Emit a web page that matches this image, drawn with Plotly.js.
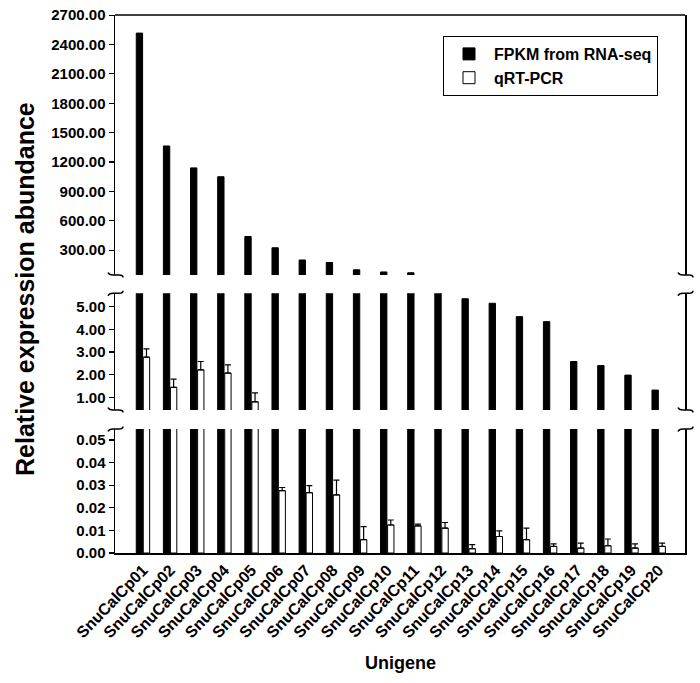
<!DOCTYPE html>
<html>
<head>
<meta charset="utf-8">
<script src="https://cdn.plot.ly/plotly-3.0.1.min.js"></script>
<style>html,body{margin:0;padding:0;background:#fff;}#chart{width:700px;height:683px;}</style>
</head>
<body>
<div id="chart"></div>
<script>
// ---- data ----
const categories = ['SnuCalCp01','SnuCalCp02','SnuCalCp03','SnuCalCp04','SnuCalCp05',
  'SnuCalCp06','SnuCalCp07','SnuCalCp08','SnuCalCp09','SnuCalCp10',
  'SnuCalCp11','SnuCalCp12','SnuCalCp13','SnuCalCp14','SnuCalCp15',
  'SnuCalCp16','SnuCalCp17','SnuCalCp18','SnuCalCp19','SnuCalCp20'];
const fpkm = [2516, 1364, 1140, 1050, 440, 325, 200, 175, 100, 78,
  70, 30, 5.35, 5.15, 4.56, 4.34, 2.58, 2.40, 1.98, 1.32];
const qpcr = [2.77, 1.44, 2.21, 2.07, 0.80, 0.0276, 0.0267, 0.0257, 0.0059, 0.0124,
  0.0120, 0.0110, 0.0019, 0.0073, 0.0059, 0.0029, 0.0022, 0.0032, 0.0022, 0.0029];
const qpcrErr = [0.37, 0.36, 0.37, 0.36, 0.40, 0.0014, 0.0031, 0.0066, 0.0058, 0.0022,
  0.0008, 0.0025, 0.0018, 0.0025, 0.0051, 0.0011, 0.0022, 0.0030, 0.0018, 0.0015];
const seriesNames = ['FPKM from RNA-seq', 'qRT-PCR'];
const yTitle = 'Relative expression abundance';
const xTitle = 'Unigene';

// ---- layout helpers ----
const FONT = 'Liberation Sans, Arial, sans-serif';
const L = 115, R = 685, T = 15, B = 553;
const px = x => (x - L) / (R - L);
const py = y => (B - y) / (B - T);

const panels = [
  {axis: 'y',  key: 'yaxis',  domain: [0, py(429)],      range: [0, 0.0549],  dtick: 0.01},
  {axis: 'y2', key: 'yaxis2', domain: [py(410), py(293.3)], range: [0.44, 5.59], dtick: 1},
  {axis: 'y3', key: 'yaxis3', domain: [py(275), 1],       range: [47, 2701],    dtick: 300}
];

const traces = [];
panels.forEach((p, i) => {
  traces.push({
    type: 'bar', name: seriesNames[0], x: categories, y: fpkm, xaxis: 'x', yaxis: p.axis,
    marker: {color: '#000', line: {color: '#000', width: 1}},
    showlegend: i === 0, legendgroup: 'a', hoverinfo: 'x+y'
  });
  traces.push({
    type: 'bar', name: seriesNames[1], x: categories, y: qpcr, xaxis: 'x', yaxis: p.axis,
    marker: {color: '#fff', line: {color: '#000', width: 1}},
    error_y: {type: 'data', symmetric: false, array: qpcrErr, arrayminus: qpcrErr.map(() => 0),
      color: '#000', thickness: 1.2, width: 3},
    showlegend: i === 0, legendgroup: 'b', hoverinfo: 'x+y'
  });
});

const layout = {
  width: 700, height: 683,
  margin: {l: L, r: 700 - R, t: T, b: 683 - B},
  paper_bgcolor: '#fff', plot_bgcolor: '#fff',
  barmode: 'group', bargap: 0.48, bargroupgap: 0.1,
  showlegend: true,
  legend: {
    x: px(443), y: py(36), xanchor: 'left', yanchor: 'top',
    bordercolor: '#000', borderwidth: 1, bgcolor: '#fff',
    font: {family: FONT, size: 16, color: '#000', weight: 'bold'},
    traceorder: 'normal', itemwidth: 40
  },
  xaxis: {
    type: 'category', range: [-1.03, 19.97], anchor: 'y',
    showline: true, linecolor: '#000', linewidth: 1.5, ticks: '',
    tickangle: -46, showgrid: false, zeroline: false,
    tickfont: {family: FONT, size: 16, color: '#000', weight: 'bold'}
  },
  annotations: [
    {text: yTitle, xref: 'paper', yref: 'paper', x: px(25), y: py(289), textangle: -90,
     showarrow: false, xanchor: 'center', yanchor: 'middle',
     font: {family: FONT, size: 25, color: '#000', weight: 'bold'}},
    {text: xTitle, xref: 'paper', yref: 'paper', x: px(400), y: py(663),
     showarrow: false, xanchor: 'center', yanchor: 'middle',
     font: {family: FONT, size: 18, color: '#000', weight: 'bold'}}
  ],
  shapes: [
    {type: 'line', xref: 'paper', yref: 'paper', x0: 0, x1: 1, y0: 1, y1: 1,
     line: {color: '#000', width: 1.5}}
  ]
};

panels.forEach(p => {
  layout[p.key] = {
    domain: p.domain, range: p.range, anchor: 'x', dtick: p.dtick, tick0: 0,
    tickformat: '.2f', showline: true, mirror: true, linecolor: '#000', linewidth: 1.5,
    ticks: 'outside', ticklen: 5, tickcolor: '#000', tickwidth: 1.2,
    showgrid: false, zeroline: false,
    tickfont: {family: FONT, size: 15, color: '#000', weight: 'bold'}
  };
});

// break marks (decoration)
function brace(X, Y, dir) {
  const p = (x, y) => px(x) + ',' + py(y);
  return 'M' + p(X - 7, Y + dir * 2.5) + ' Q' + p(X - 6, Y) + ' ' + p(X - 2, Y) +
         ' L' + p(X + 4, Y) + ' Q' + p(X + 8, Y) + ' ' + p(X + 8, Y - dir * 2.5);
}
[[275, -1], [293.3, 1], [410, -1], [429, 1]].forEach(([Y, d]) => {
  [L, R].forEach(X => {
    layout.shapes.push({type: 'path', xref: 'paper', yref: 'paper', path: brace(X, Y, d),
      line: {color: '#000', width: 1.5}});
  });
});

Plotly.newPlot('chart', traces, layout, {displayModeBar: false, staticPlot: true});
</script>
</body>
</html>
